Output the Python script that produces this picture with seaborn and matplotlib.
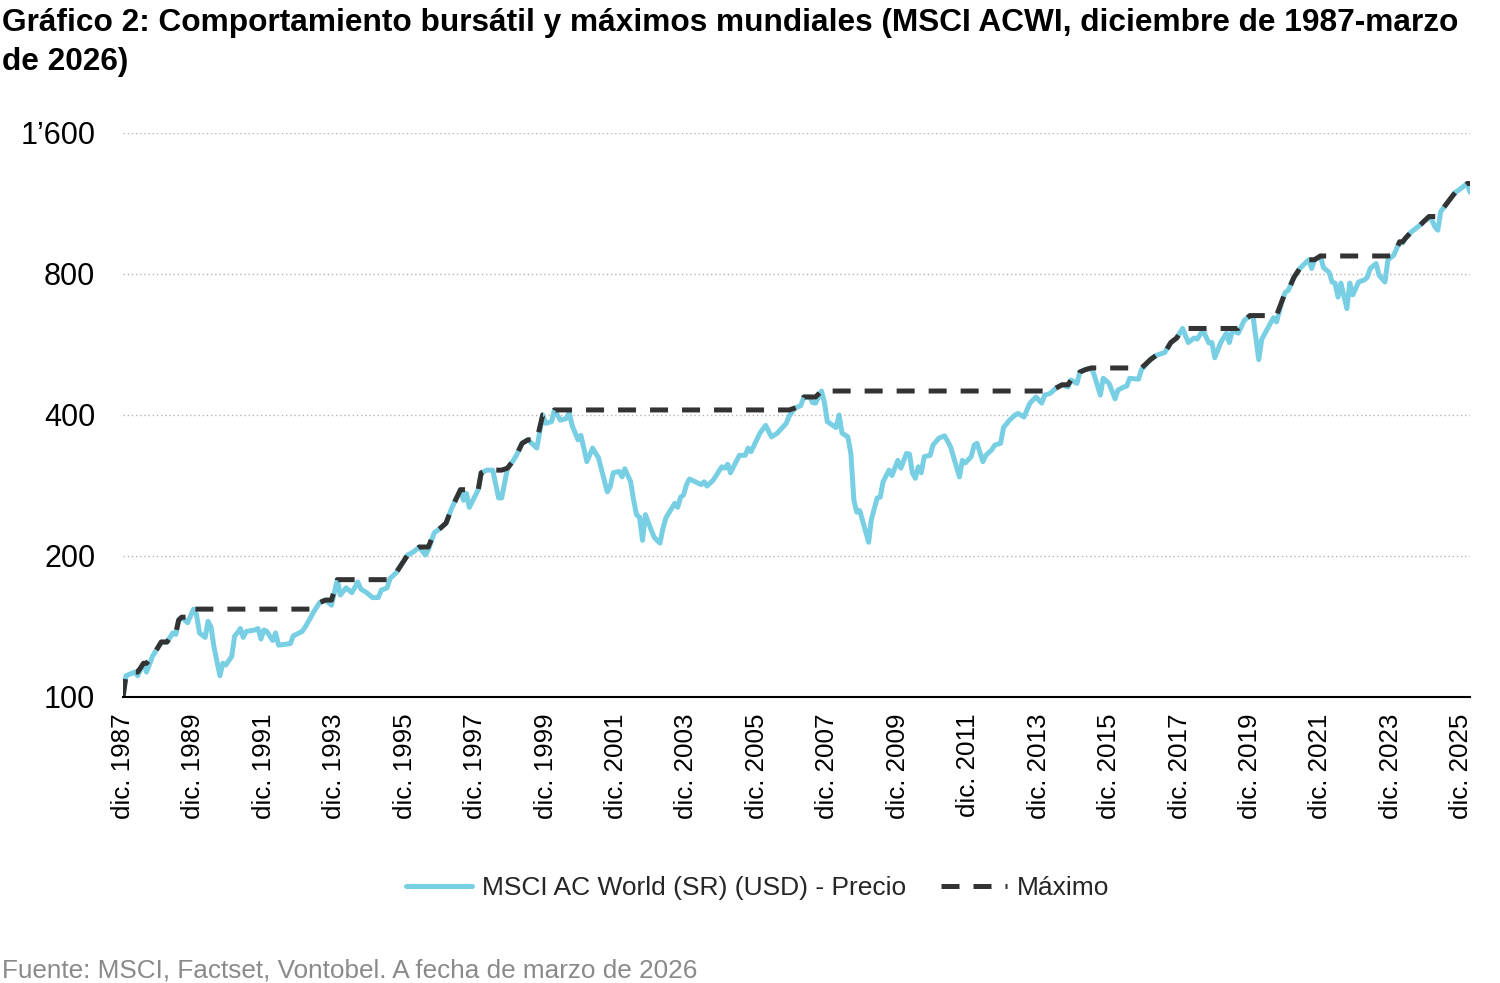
import pandas as pd
import matplotlib
matplotlib.use("Agg")
import matplotlib.pyplot as plt
from matplotlib.ticker import FixedLocator, FuncFormatter, NullLocator
import seaborn as sns

# monthly points (index, Dec 1987 = 100)
dates = [
    "1987-12", "1988-01", "1988-04", "1988-05", "1988-07", "1988-08", "1988-10",
    "1989-01", "1989-03", "1989-05", "1989-06", "1989-07", "1989-08", "1989-10", "1989-12",
    "1990-01", "1990-02", "1990-04", "1990-05", "1990-06", "1990-07", "1990-09", "1990-10", "1990-11",
    "1991-01", "1991-02", "1991-03", "1991-04", "1991-05", "1991-06", "1991-09", "1991-10", "1991-11", "1991-12",
    "1992-01", "1992-03", "1992-04", "1992-05", "1992-09", "1992-10",
    "1993-01", "1993-02", "1993-04", "1993-05", "1993-07", "1993-09", "1993-11",
    "1994-01", "1994-02", "1994-04", "1994-06", "1994-08", "1994-09", "1994-11",
    "1995-01", "1995-03", "1995-04", "1995-06", "1995-07", "1995-09",
    "1996-01", "1996-03", "1996-05", "1996-07", "1996-08", "1996-10", "1996-12",
    "1997-02", "1997-04", "1997-07", "1997-08", "1997-09", "1997-10",
    "1998-01", "1998-02", "1998-04", "1998-06", "1998-08", "1998-09", "1998-11",
    "1999-01", "1999-02", "1999-04", "1999-06", "1999-09", "1999-11", "1999-12",
    "2000-02", "2000-03", "2000-05", "2000-07", "2000-08", "2000-09", "2000-11", "2000-12",
    "2001-02", "2001-04", "2001-06", "2001-09", "2001-10", "2001-11",
    "2002-01", "2002-02", "2002-03", "2002-05", "2002-06", "2002-07", "2002-08", "2002-09", "2002-10", "2002-12",
    "2003-01", "2003-03", "2003-04", "2003-05", "2003-08", "2003-09", "2003-10", "2003-11", "2003-12",
    "2004-01", "2004-05", "2004-06", "2004-07", "2004-09", "2004-12",
    "2005-01", "2005-02", "2005-03", "2005-06", "2005-08", "2005-09", "2005-10",
    "2006-01", "2006-03", "2006-05", "2006-07", "2006-10", "2006-11",
    "2007-01", "2007-03", "2007-04", "2007-06", "2007-07", "2007-08", "2007-10", "2007-11", "2007-12",
    "2008-03", "2008-04", "2008-05", "2008-07", "2008-08", "2008-09", "2008-10", "2008-11",
    "2009-02", "2009-03", "2009-05", "2009-06", "2009-07", "2009-09", "2009-10", "2009-12",
    "2010-01", "2010-03", "2010-04", "2010-05", "2010-06", "2010-07", "2010-08", "2010-09", "2010-11", "2010-12",
    "2011-02", "2011-04", "2011-06", "2011-07", "2011-09", "2011-10", "2011-11",
    "2012-01", "2012-02", "2012-03", "2012-05", "2012-06", "2012-08", "2012-09", "2012-11", "2012-12",
    "2013-02", "2013-04", "2013-05", "2013-07", "2013-09", "2013-11",
    "2014-01", "2014-02", "2014-04", "2014-06", "2014-08", "2014-10", "2014-11",
    "2015-01", "2015-02", "2015-04", "2015-06", "2015-07", "2015-09", "2015-10", "2015-12",
    "2016-02", "2016-03", "2016-05", "2016-06", "2016-07", "2016-10", "2016-11",
    "2017-02", "2017-04", "2017-07", "2017-09", "2017-11",
    "2018-01", "2018-03", "2018-05", "2018-06", "2018-08", "2018-10", "2018-11", "2018-12",
    "2019-02", "2019-04", "2019-05", "2019-06", "2019-08", "2019-10", "2019-12",
    "2020-01", "2020-03", "2020-04", "2020-06", "2020-08", "2020-09", "2020-11", "2020-12",
    "2021-01", "2021-03", "2021-05", "2021-06", "2021-08", "2021-09", "2021-10", "2021-12",
    "2022-01", "2022-03", "2022-04", "2022-05", "2022-06", "2022-07", "2022-09", "2022-10", "2022-11",
    "2023-01", "2023-03", "2023-04", "2023-05", "2023-07", "2023-08", "2023-10", "2023-11",
    "2024-01", "2024-03", "2024-04", "2024-05", "2024-07", "2024-10", "2024-11",
    "2025-01", "2025-02", "2025-03", "2025-04", "2025-05", "2025-08", "2025-10", "2025-11",
    "2026-02", "2026-03",
]
precio = [
    100, 111, 113, 111, 118, 113, 122,
    131, 131, 137, 136, 146, 148, 144, 154,
    150, 137, 134, 145, 141, 128, 111, 118, 117,
    122, 135, 137, 140, 134, 138, 139, 140, 133, 139,
    138, 132, 137, 129, 130, 135,
    138, 141, 148, 152, 159, 161, 157,
    178, 165, 171, 167, 176, 170, 167,
    163, 163, 169, 171, 179, 184,
    201, 204, 209, 201, 206, 224, 229,
    235, 253, 277, 263, 272, 254,
    277, 301, 305, 305, 266, 266, 308,
    320, 328, 348, 354, 340, 400, 384,
    387, 410, 390, 393, 404, 380, 354, 362,
    318, 340, 324, 274, 281, 301,
    303, 295, 307, 288, 263, 245, 242, 216, 245, 227,
    219, 213, 229, 241, 259, 254, 267, 270, 284,
    292, 284, 288, 282, 290, 310,
    308, 314, 301, 328, 328, 340, 334,
    366, 380, 359, 366, 384, 398,
    414, 419, 437, 437, 425, 424, 450, 425, 387,
    376, 400, 366, 359, 331, 263, 248, 250,
    214, 239, 266, 267, 288, 305, 297, 320,
    308, 331, 330, 301, 293, 310, 301, 326, 328, 345,
    357, 361, 342, 326, 295, 320, 316,
    326, 345, 348, 318, 328, 337, 345, 348, 376,
    390, 400, 403, 396, 424, 437,
    424, 441, 445, 457, 464, 459, 475,
    467, 494, 500, 504, 486, 441, 479, 467,
    433, 452, 459, 461, 479, 477, 500,
    525, 536, 544, 571, 584,
    612, 571, 584, 581, 606, 570, 571, 530,
    571, 598, 571, 606, 598, 636, 652,
    652, 525, 580, 612, 645, 632, 704, 731,
    738, 787, 822, 834, 858, 822, 858, 874,
    826, 806, 769, 765, 714, 765, 675, 765, 722,
    769, 777, 787, 822, 842, 795, 769, 858,
    878, 937, 932, 954, 984, 1018, 1033,
    1061, 1040, 1010, 992, 1087, 1152, 1196, 1207,
    1248, 1196,
]
tick_years = list(range(1987, 2026, 2))
y_ticks = [100, 200, 400, 800, 1600]

df = pd.DataFrame({"fecha": pd.to_datetime(dates), "precio": precio})
df["maximo"] = df["precio"].cummax()

sns.set_theme(style="white")
plt.rcParams["font.family"] = ["Liberation Sans", "DejaVu Sans"]

fig = plt.figure(figsize=(15, 9.83), dpi=100)
ax = fig.add_axes([0.082, 0.291, 0.898, 0.5737])

sns.lineplot(data=df, x="fecha", y="precio", color="#78cfe4", lw=3.6, ax=ax,
             label="MSCI AC World (SR) (USD) - Precio")
sns.lineplot(data=df, x="fecha", y="maximo", color="#333333", lw=3.6, ax=ax,
             linestyle=(0, (3.6, 2.8)), label="Máximo")

ax.set_yscale("log", base=2)
ax.set_ylim(100, 1600)
ax.yaxis.set_major_locator(FixedLocator(y_ticks))
ax.yaxis.set_minor_locator(NullLocator())
ax.yaxis.set_major_formatter(FuncFormatter(lambda v, p: f"{int(round(v)):,}".replace(",", "\u2019")))
ax.yaxis.grid(True, linestyle=(0, (1, 2)), color="#b5b5b5", lw=1)

ax.set_xlim(df["fecha"].iloc[0], df["fecha"].iloc[-1])
ax.set_xticks(pd.to_datetime([f"{y}-12" for y in tick_years]))
ax.set_xticklabels([f"dic. {y}" for y in tick_years], rotation=90)
ax.xaxis.set_minor_locator(NullLocator())

ax.tick_params(axis="x", length=0, pad=12, labelsize=18.7, colors="black")
ax.tick_params(axis="y", length=0, pad=20, labelsize=22, colors="black")
ax.set_xlabel("")
ax.set_ylabel("")

for s in ["top", "right", "left"]:
    ax.spines[s].set_visible(False)
ax.spines["bottom"].set_color("black")
ax.spines["bottom"].set_linewidth(1.5)

handles, labels = ax.get_legend_handles_labels()
ax.get_legend().remove()
fig.legend(handles, labels, loc="center", bbox_to_anchor=(0.505, 0.0967), ncol=2,
           frameon=False, fontsize=19, handlelength=2.5, columnspacing=1.3,
           handletextpad=0.4)

fig.text(0.001, 0.992,
         "Gráfico 2: Comportamiento bursátil y máximos mundiales (MSCI ACWI, diciembre de 1987-marzo\nde 2026)",
         ha="left", va="top", fontsize=22.8, weight="bold", color="black",
         linespacing=1.38)
fig.text(0.001, 0.0061, "Fuente: MSCI, Factset, Vontobel. A fecha de marzo de 2026",
         ha="left", va="baseline", fontsize=18.8, color="#8a8a8a")

fig.savefig("out.png", dpi=100)
